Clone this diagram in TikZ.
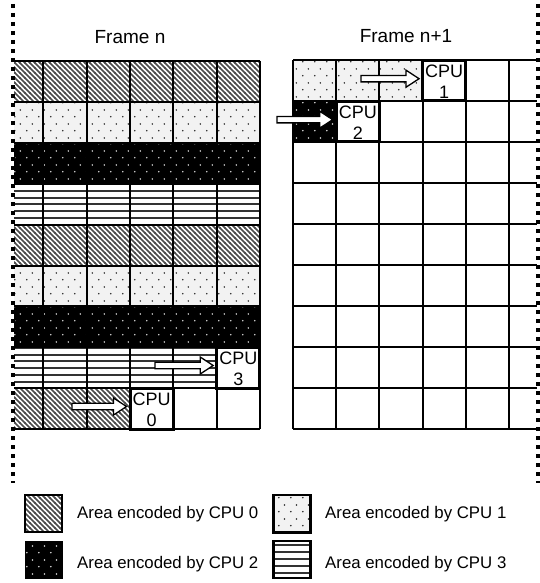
\documentclass[tikz,border=0pt]{standalone}
\usepackage{fontspec}
\setmainfont{Liberation Sans}
\usetikzlibrary{patterns,calc}

\pgfdeclarepatternformonly{diagsw}{\pgfqpoint{-1pt}{-1pt}}{\pgfqpoint{6pt}{6pt}}{\pgfqpoint{5pt}{5pt}}{%
  \pgfsetlinewidth{1.5pt}%
  \pgfpathmoveto{\pgfqpoint{-0.5pt}{5.5pt}}%
  \pgfpathlineto{\pgfqpoint{5.5pt}{-0.5pt}}%
  \pgfusepath{stroke}}
\pgfdeclarepatternformonly{hstripes}{\pgfqpoint{-1pt}{0pt}}{\pgfqpoint{5pt}{6.82pt}}{\pgfqpoint{4pt}{6.82pt}}{%
  \pgfsetlinewidth{2pt}%
  \pgfpathmoveto{\pgfqpoint{-1pt}{3.41pt}}%
  \pgfpathlineto{\pgfqpoint{5pt}{3.41pt}}%
  \pgfusepath{stroke}}
\pgfdeclarepatternformonly{stagdots}{\pgfqpoint{0pt}{0pt}}{\pgfqpoint{12pt}{13.6pt}}{\pgfqpoint{12pt}{13.6pt}}{%
  \pgfpathcircle{\pgfqpoint{3pt}{3.4pt}}{0.9pt}%
  \pgfpathcircle{\pgfqpoint{9pt}{10.2pt}}{0.9pt}%
  \pgfusepath{fill}}

\newcommand\blockarrow[2]{%
  \draw[barrow] let \p1=(#1), \p2=(#2.west) in
    (\x1,\y1+3.2pt) -- (\x2-15pt,\y1+3.2pt) -- (\x2-15pt,\y1+8.5pt) -- (\x2-2pt,\y1)
    -- (\x2-15pt,\y1-8.5pt) -- (\x2-15pt,\y1-3.2pt) -- (\x1,\y1-3.2pt) -- cycle;}

\tikzset{
  pzero/.style={preaction={fill=white}, pattern=diagsw, pattern color=black!70},
  pone/.style={preaction={fill=black!5}, pattern=stagdots, pattern color=black!85},
  ptwo/.style={preaction={fill=black}, pattern=stagdots, pattern color=black!15},
  pthree/.style={preaction={fill=white}, pattern=hstripes, pattern color=black!80},
  gridline/.style={line width=2pt, black},
  cpubox/.style={draw, fill=white, line width=3pt, minimum width=43.3pt,
    minimum height=40.9pt, inner sep=0pt},
  cputext/.style={align=center, inner sep=0pt, font=\fontsize{18}{21}\selectfont},
  barrow/.style={draw, fill=white, line width=1.3pt, line join=miter},
  dotline/.style={line width=4pt, dash pattern=on 4pt off 5pt},
  framelabel/.style={anchor=base, inner sep=0pt, font=\fontsize{19}{22}\selectfont},
  legtext/.style={anchor=base west, inner sep=0pt, font=\fontsize{16.8}{20}\selectfont},
  swatch/.style={draw, line width=2pt}
}

\begin{document}
\begin{tikzpicture}[x=1pt,y=-1pt]
\useasboundingbox (0,0) rectangle (540,583);

% labels
\node[framelabel] (fn) at (130,43.5) {Frame n};
\node[framelabel] (fn1) at (406,43) {Frame n+1};

% ---------- left frame fills ----------
\path[pzero]  (14,61) rectangle (260,101.9);
\path[pone]   (14,101.9) rectangle (260,142.8);
\path[ptwo]   (14,142.8) rectangle (260,183.7);
\path[pthree] (14,183.7) rectangle (260,224.6);
\path[pzero]  (14,224.6) rectangle (260,265.5);
\path[pone]   (14,265.5) rectangle (260,306.4);
\path[ptwo]   (14,306.4) rectangle (260,347.3);
\path[pthree] (14,347.3) rectangle (216.67,388.2);
\path[pzero]  (14,388.2) rectangle (130,429.1);

% left grid
\foreach \y in {61,101.9,142.8,183.7,224.6,265.5,306.4,347.3,388.2,429.1}
  \draw[gridline] (14,\y) -- (260,\y);
\foreach \x in {43.33,86.67,130,173.33,216.67,260}
  \draw[gridline] (\x,61) -- (\x,429.1);

% ---------- right frame fills ----------
\path[pone] (293,60) rectangle (422.6,101);
\path[ptwo] (293,101) rectangle (336.2,142);

% right grid
\foreach \y in {60,101,142,183,224,265,306,347,388,429}
  \draw[gridline] (293,\y) -- (537,\y);
\foreach \x in {293,336.2,379.4,422.6,465.8,509}
  \draw[gridline] (\x,60) -- (\x,429);

% CPU boxes
\node[cpubox] (c3) at (238.33,367.75) {};
\node[cputext] (t3) at ($(c3.center)+(0,1)$) {CPU\\3};
\node[cpubox] (c0) at (151.67,408.65) {};
\node[cputext] (t0) at ($(c0.center)+(0,1)$) {CPU\\0};
\node[cpubox] (c1) at (444.2,80.5) {};
\node[cputext] (t1) at ($(c1.center)+(0,1)$) {CPU\\1};
\node[cpubox] (c2) at (357.8,121.5) {};
\node[cputext] (t2) at ($(c2.center)+(0,1)$) {CPU\\2};

% arrows
\coordinate (a3) at (155,365.5);
\coordinate (a0) at (72,406.5);
\coordinate (a1) at (361,78.7);
\coordinate (a2) at (277,119.7);
\blockarrow{a3}{c3}
\blockarrow{a0}{c0}
\blockarrow{a1}{c1}
\blockarrow{a2}{c2}

% dotted border lines
\coordinate (dl1) at (13,4);
\coordinate (dl2) at (13,483);
\coordinate (dr1) at (537.7,4);
\coordinate (dr2) at (537.7,483);
\draw[dotline] (dl1) -- (dl2);
\draw[dotline] (dr1) -- (dr2);

% legend
\path[pzero, swatch, line width=1.6pt] (25,495) rectangle (62,532);
\node[legtext] (lg0) at (77,518) {Area encoded by CPU 0};
\path[pone, swatch, line width=2.6pt] (273.5,495) rectangle (310.5,532.5);
\node[legtext] (lg1) at (325,518) {Area encoded by CPU 1};
\path[ptwo, swatch, line width=1pt] (25,541) rectangle (62,578);
\node[legtext] (lg2) at (77,568) {Area encoded by CPU 2};
\path[pthree, swatch, line width=2.6pt] (273.5,541) rectangle (310.5,578);
\node[legtext] (lg3) at (325,568) {Area encoded by CPU 3};
\end{tikzpicture}
\end{document}
